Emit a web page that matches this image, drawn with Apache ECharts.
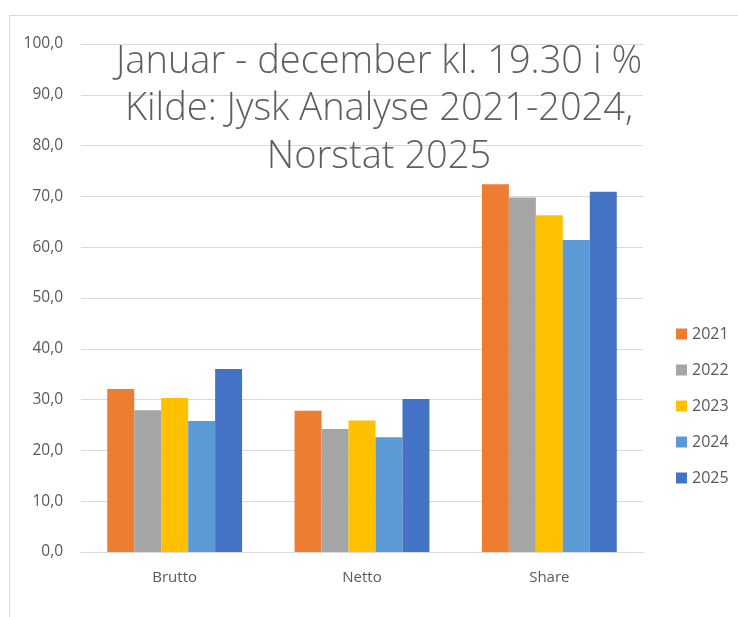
<!DOCTYPE html>
<html><head><meta charset="utf-8">
<script src="https://cdn.jsdelivr.net/npm/echarts@6/dist/echarts.min.js"></script>
<style>html,body{margin:0;padding:0;background:#fff}#c{width:738px;height:617px}</style>
</head><body><div id="c"></div>
<script>
const categories = ["Brutto", "Netto", "Share"];
const years = ["2021", "2022", "2023", "2024", "2025"];
const v2021 = [32.1, 27.8, 72.4];
const v2022 = [27.9, 24.2, 69.8];
const v2023 = [30.3, 25.9, 66.3];
const v2024 = [25.8, 22.6, 61.4];
const v2025 = [36.0, 30.1, 70.9];
const colors = ["#ED7D31", "#A5A5A5", "#FFC000", "#5B9BD5", "#4472C4"];
const titleLines = ["Januar - december kl. 19.30 i %", "Kilde: Jysk Analyse 2021-2024,", "Norstat 2025"];

const seriesData = [v2021, v2022, v2023, v2024, v2025];
const font = "'Open Sans', 'Liberation Sans', sans-serif";
const chart = echarts.init(document.getElementById('c'));
chart.setOption({
  animation: false,
  backgroundColor: '#fff',
  color: colors,
  graphic: [{
    type: 'rect', left: 7, top: 13, z: -10,
    shape: {width: 780, height: 650},
    style: {fill: 'none', stroke: '#d9d9d9', lineWidth: 1}
  }],
  title: {
    text: titleLines.join('\n'),
    left: 374, top: 33, textAlign: 'center',
    textStyle: {fontFamily: font, fontSize: 38, fontWeight: 300, color: '#5f5f5f', lineHeight: 47.5}
  },
  legend: {
    orient: 'vertical', left: 671, top: 321, itemGap: 20,
    itemWidth: 11, itemHeight: 11, icon: 'rect',
    textStyle: {fontFamily: font, fontSize: 16, color: '#595959', padding: [0, 0, 0, 0]}
  },
  grid: {left: 81, right: 95, top: 44, bottom: 65},
  xAxis: {
    type: 'category', data: categories,
    axisLine: {lineStyle: {color: '#d9d9d9'}}, axisTick: {show: false},
    axisLabel: {fontFamily: font, fontSize: 15, color: '#595959', margin: 18}
  },
  yAxis: {
    type: 'value', min: 0, max: 100, interval: 10,
    axisLabel: {fontFamily: font, fontSize: 15.5, color: '#595959', margin: 18,
      formatter: v => v.toFixed(1).replace('.', ',')},
    splitLine: {lineStyle: {color: '#d9d9d9'}},
    axisLine: {show: false}, axisTick: {show: false}
  },
  series: years.map((y, i) => ({
    name: y, type: 'bar', data: seriesData[i],
    barGap: '0%', barCategoryGap: '28%'
  }))
});
</script></body></html>
